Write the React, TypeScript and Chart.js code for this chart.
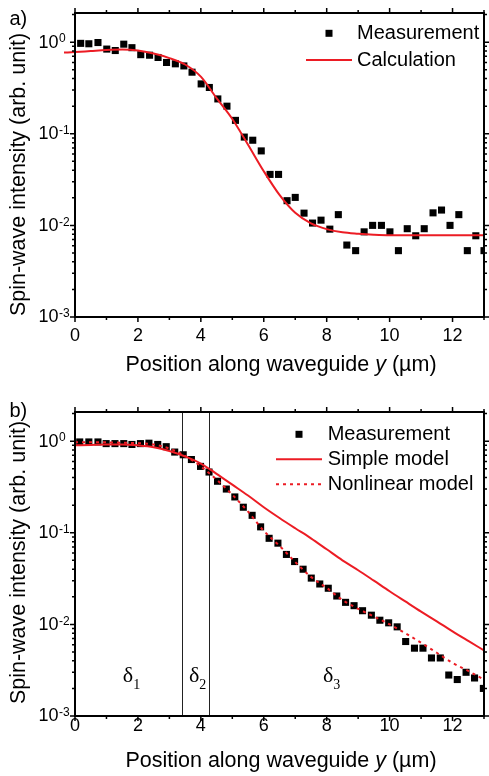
import React, { useEffect, useRef } from "react";
import { Chart, registerables } from "chart.js";
Chart.register(...registerables);

const FONT = '"Liberation Sans", Arial, Helvetica, sans-serif';
const SERIF = '"Liberation Serif", "Times New Roman", serif';
const RED = "rgb(236,28,36)";

// ---------- Panel a data ----------
const aMeasX = [0.18, 0.44, 0.73, 1.01, 1.28, 1.55, 1.81, 2.09, 2.37, 2.64, 2.91, 3.19, 3.46, 3.72, 4.01, 4.27, 4.54, 4.83, 5.1, 5.38, 5.65, 5.92, 6.2, 6.47, 6.74, 7.0, 7.28, 7.55, 7.82, 8.1, 8.37, 8.64, 8.92, 9.19, 9.46, 9.74, 10.01, 10.28, 10.56, 10.83, 11.1, 11.38, 11.65, 11.92, 12.2, 12.47, 12.74, 13.0];
const aMeasY = [0.97, 0.96, 0.99, 0.84, 0.81, 0.95, 0.87, 0.73, 0.72, 0.68, 0.6, 0.58, 0.55, 0.47, 0.35, 0.32, 0.24, 0.2, 0.14, 0.092, 0.085, 0.065, 0.036, 0.036, 0.0186, 0.0202, 0.0136, 0.0106, 0.0114, 0.0091, 0.0131, 0.0061, 0.0053, 0.0085, 0.01, 0.01, 0.0085, 0.0053, 0.0092, 0.0077, 0.0092, 0.0137, 0.0147, 0.01, 0.0131, 0.0053, 0.0077, 0.0053];
const aCalcX = [-0.35, 0, 0.5, 1, 1.5, 2, 2.5, 3, 3.5, 4, 4.5, 5, 5.5, 6, 6.5, 7, 7.5, 8, 8.5, 9, 9.5, 10, 11, 12, 13];
const aCalcY = [0.77, 0.78, 0.8, 0.82, 0.83, 0.81, 0.75, 0.67, 0.57, 0.42, 0.245, 0.145, 0.076, 0.039, 0.0215, 0.0137, 0.0105, 0.0091, 0.0084, 0.0081, 0.0079, 0.0078, 0.0078, 0.0078, 0.0078];

// ---------- Panel b data ----------
const bMeasX = [0.15, 0.44, 0.73, 0.99, 1.27, 1.55, 1.81, 2.08, 2.35, 2.63, 2.9, 3.17, 3.44, 3.7, 3.99, 4.26, 4.53, 4.81, 5.08, 5.35, 5.63, 5.9, 6.17, 6.45, 6.72, 6.98, 7.25, 7.51, 7.78, 8.05, 8.32, 8.6, 8.87, 9.14, 9.42, 9.69, 9.97, 10.24, 10.51, 10.79, 11.06, 11.33, 11.61, 11.88, 12.15, 12.43, 12.7, 12.98];
const bMeasY = [0.98, 0.98, 0.98, 0.94, 0.94, 0.94, 0.92, 0.94, 0.95, 0.92, 0.87, 0.76, 0.71, 0.63, 0.53, 0.46, 0.365, 0.3, 0.246, 0.19, 0.155, 0.116, 0.087, 0.077, 0.058, 0.0485, 0.04, 0.032, 0.0276, 0.0248, 0.0204, 0.0174, 0.016, 0.0141, 0.0126, 0.0111, 0.0104, 0.0094, 0.0065, 0.0055, 0.0055, 0.0043, 0.0043, 0.0028, 0.0025, 0.003, 0.0026, 0.002];
const bModelX = [0, 0.5, 1, 1.5, 2, 2.5, 3, 3.5, 4, 4.5, 5, 5.5, 6, 6.5, 7, 7.5, 8, 8.5, 9, 9.5, 10, 10.5, 11, 11.5, 12, 12.5, 13];
const bSimpleY = [0.9, 0.91, 0.92, 0.92, 0.9, 0.86, 0.78, 0.68, 0.57, 0.44, 0.335, 0.255, 0.19, 0.145, 0.112, 0.087, 0.066, 0.05, 0.039, 0.03, 0.023, 0.0178, 0.0138, 0.0108, 0.0084, 0.0066, 0.0052];
const bNonlinearY = [0.97, 0.97, 0.97, 0.96, 0.95, 0.92, 0.83, 0.69, 0.53, 0.38, 0.26, 0.17, 0.105, 0.072, 0.048, 0.033, 0.025, 0.0185, 0.0148, 0.0122, 0.01, 0.008, 0.0063, 0.0049, 0.0038, 0.0031, 0.0025];
const bRegionLines = [3.41, 4.25];
const bRegionLabelX = [1.52, 3.62, 7.88];
const bRegionLabelY = 0.0027;
const bRegionSubs = ["1", "2", "3"];

// ---------- axes ----------
const X_MIN = 0;
const X_MAX = 13;
const X_LABELS = [0, 2, 4, 6, 8, 10, 12];
const Y_MIN = 0.001;
const Y_MAX = 2.08;
const Y_DECADES = [-3, -2, -1, 0];
const X_TITLE = ["Position along waveguide ", "y", " (\u00b5m)"];
const Y_TITLE = "Spin-wave intensity (arb. unit)";

const pts = (xs: number[], ys: number[]) => xs.map((x, i) => ({ x, y: ys[i] }));

type LegendItem = { kind: "square" | "line" | "dash"; label: string };
type Panel = {
  letter: string;
  letterY: number;
  top: number;
  bottom: number;
  tickLabelOff: number;
  titleY: number;
  datasets: any[];
  legend: LegendItem[];
  legSquareX: number;
  legLineX0: number;
  legLineX1: number;
  legTextX: number;
  legY0: number;
  legDy: number;
  vlines?: number[];
  regions?: boolean;
};

const W = 489;
const H = 388;

function makePlugin(p: Panel) {
  return {
    id: "decor",
    beforeDatasetsDraw(chart: any) {
      if (!p.vlines) return;
      const ctx = chart.ctx;
      const { top, bottom } = chart.chartArea;
      const xs = chart.scales.x;
      ctx.save();
      ctx.strokeStyle = "#222";
      ctx.lineWidth = 1;
      ctx.beginPath();
      p.vlines.forEach((v) => {
        const px = Math.round(xs.getPixelForValue(v)) + 0.5;
        ctx.moveTo(px, bottom);
        ctx.lineTo(px, top);
      });
      ctx.stroke();
      ctx.restore();
    },
    afterDraw(chart: any) {
      const ctx = chart.ctx;
      const { left, right, top, bottom } = chart.chartArea;
      const xs = chart.scales.x;
      const ys = chart.scales.y;
      ctx.save();
      ctx.fillStyle = "#000";
      ctx.strokeStyle = "#000";
      // frame
      ctx.lineWidth = 2;
      ctx.strokeRect(left, top, right - left, bottom - top);
      // ticks
      ctx.lineWidth = 1.5;
      ctx.beginPath();
      for (let v = X_MIN; v <= X_MAX; v++) {
        const px = xs.getPixelForValue(v);
        const len = v % 2 === 0 ? 5 : 3;
        ctx.moveTo(px, bottom);
        ctx.lineTo(px, bottom + len);
        ctx.moveTo(px, top);
        ctx.lineTo(px, top - len);
      }
      Y_DECADES.forEach((d) => {
        for (let m = 1; m <= 9; m++) {
          const v = m * Math.pow(10, d);
          if (v > Y_MAX) break;
          const py = ys.getPixelForValue(v);
          const len = m === 1 ? 5 : 3;
          ctx.moveTo(left, py);
          ctx.lineTo(left - len, py);
          ctx.moveTo(right, py);
          ctx.lineTo(right + len, py);
        }
      });
      ctx.stroke();
      // x tick labels
      ctx.font = `18px ${FONT}`;
      ctx.textAlign = "center";
      ctx.textBaseline = "middle";
      X_LABELS.forEach((v) => {
        ctx.fillText(String(v), xs.getPixelForValue(v), bottom + p.tickLabelOff);
      });
      // y tick labels
      Y_DECADES.forEach((d) => {
        const py = ys.getPixelForValue(Math.pow(10, d));
        ctx.textAlign = "left";
        ctx.font = `18px ${FONT}`;
        ctx.fillText("10", 38.5, py + 0.5);
        const w = ctx.measureText("10").width;
        ctx.font = `12px ${FONT}`;
        ctx.fillText(d === 0 ? "0" : "-" + String(-d), 38.5 + w + 0.5, py - 3);
      });
      // x title
      ctx.textBaseline = "middle";
      ctx.textAlign = "left";
      const fN = `21.5px ${FONT}`;
      const fI = `italic 21.5px ${FONT}`;
      ctx.font = fN;
      const w0 = ctx.measureText(X_TITLE[0]).width;
      const w2 = ctx.measureText(X_TITLE[2]).width;
      ctx.font = fI;
      const w1 = ctx.measureText(X_TITLE[1]).width;
      const x0 = 281 - (w0 + w1 + w2) / 2;
      ctx.font = fN;
      ctx.fillText(X_TITLE[0], x0, p.titleY);
      ctx.font = fI;
      ctx.fillText(X_TITLE[1], x0 + w0, p.titleY);
      ctx.font = fN;
      ctx.fillText(X_TITLE[2], x0 + w0 + w1, p.titleY);
      // y title
      ctx.save();
      ctx.translate(19, 174.5);
      ctx.rotate(-Math.PI / 2);
      ctx.textAlign = "center";
      ctx.font = `21.5px ${FONT}`;
      ctx.fillText(Y_TITLE, 0, 0);
      ctx.restore();
      // panel letter
      ctx.textAlign = "left";
      ctx.font = `20px ${FONT}`;
      ctx.fillText(p.letter, 9.5, p.letterY);
      // legend
      p.legend.forEach((it, i) => {
        const y = p.legY0 + i * p.legDy;
        if (it.kind === "square") {
          ctx.fillStyle = "#000";
          ctx.fillRect(p.legSquareX - 3.5, y - 3.5, 7, 7);
        } else {
          ctx.strokeStyle = RED;
          ctx.lineWidth = 2;
          ctx.setLineDash(it.kind === "dash" ? [3, 4] : []);
          ctx.beginPath();
          ctx.moveTo(p.legLineX0, y);
          ctx.lineTo(p.legLineX1, y);
          ctx.stroke();
          ctx.setLineDash([]);
        }
        ctx.fillStyle = "#000";
        ctx.font = `20px ${FONT}`;
        ctx.textAlign = "left";
        ctx.textBaseline = "middle";
        ctx.fillText(it.label, p.legTextX, y);
      });
      // region labels
      if (p.regions) {
        const py = ys.getPixelForValue(bRegionLabelY);
        bRegionLabelX.forEach((v, i) => {
          const px = xs.getPixelForValue(v);
          ctx.font = `22px ${SERIF}`;
          ctx.textAlign = "left";
          ctx.fillText("\u03b4", px, py);
          const w = ctx.measureText("\u03b4").width;
          ctx.font = `14px ${SERIF}`;
          ctx.fillText(bRegionSubs[i], px + w, py + 9);
        });
      }
      ctx.restore();
    },
  };
}

function PanelChart({ p }: { p: Panel }) {
  const ref = useRef<HTMLCanvasElement | null>(null);
  useEffect(() => {
    if (!ref.current) return;
    const chart = new Chart(ref.current, {
      type: "scatter",
      data: { datasets: p.datasets },
      options: {
        responsive: false,
        animation: false,
        devicePixelRatio: 1,
        layout: { padding: { left: 0, right: W - 487, top: p.top, bottom: 0 } },
        plugins: { legend: { display: false }, tooltip: { enabled: false } },
        scales: {
          x: {
            type: "linear",
            min: X_MIN,
            max: X_MAX,
            grid: { display: false },
            border: { display: false },
            ticks: { display: false },
            afterFit: (s: any) => {
              s.height = H - p.bottom;
            },
          },
          y: {
            type: "logarithmic",
            min: Y_MIN,
            max: Y_MAX,
            grid: { display: false },
            border: { display: false },
            ticks: { display: false },
            afterFit: (s: any) => {
              s.width = 75;
            },
          },
        },
      } as any,
      plugins: [makePlugin(p)],
    });
    return () => chart.destroy();
  }, [p]);
  return <canvas ref={ref} width={W} height={H} style={{ display: "block", width: W, height: H }} />;
}

const measStyle = {
  showLine: false,
  pointStyle: "rect",
  pointRadius: 5,
  pointBackgroundColor: "#000",
  pointBorderColor: "#000",
  pointBorderWidth: 0,
  order: 3,
};

const panelA: Panel = {
  letter: "a)",
  letterY: 19,
  top: 13,
  bottom: 317,
  tickLabelOff: 19,
  titleY: 365,
  datasets: [
    { label: "Measurement", data: pts(aMeasX, aMeasY), ...measStyle },
    {
      label: "Calculation",
      data: pts(aCalcX, aCalcY),
      showLine: true,
      borderColor: RED,
      borderWidth: 2,
      pointRadius: 0,
      cubicInterpolationMode: "monotone",
      clip: false,
      order: 1,
    },
  ],
  legend: [
    { kind: "square", label: "Measurement" },
    { kind: "line", label: "Calculation" },
  ],
  legSquareX: 329,
  legLineX0: 306,
  legLineX1: 352,
  legTextX: 357,
  legY0: 33.3,
  legDy: 26.7,
};

const panelB: Panel = {
  letter: "b)",
  letterY: 23.5,
  top: 24,
  bottom: 328,
  tickLabelOff: 10.5,
  titleY: 373.5,
  datasets: [
    { label: "Measurement", data: pts(bMeasX, bMeasY), ...measStyle },
    {
      label: "Simple model",
      data: pts(bModelX, bSimpleY),
      showLine: true,
      borderColor: RED,
      borderWidth: 2,
      pointRadius: 0,
      cubicInterpolationMode: "monotone",
      order: 2,
    },
    {
      label: "Nonlinear model",
      data: pts(bModelX, bNonlinearY),
      showLine: true,
      borderColor: RED,
      borderWidth: 2,
      borderDash: [3, 4],
      pointRadius: 0,
      cubicInterpolationMode: "monotone",
      order: 1,
    },
  ],
  legend: [
    { kind: "square", label: "Measurement" },
    { kind: "line", label: "Simple model" },
    { kind: "dash", label: "Nonlinear model" },
  ],
  legSquareX: 299,
  legLineX0: 276,
  legLineX1: 322,
  legTextX: 327.7,
  legY0: 46.3,
  legDy: 25,
  vlines: bRegionLines,
  regions: true,
};

export default function App() {
  return (
    <div style={{ position: "absolute", left: 0, top: 0, width: W, height: 2 * H, background: "#fff" }}>
      <PanelChart p={panelA} />
      <PanelChart p={panelB} />
    </div>
  );
}
